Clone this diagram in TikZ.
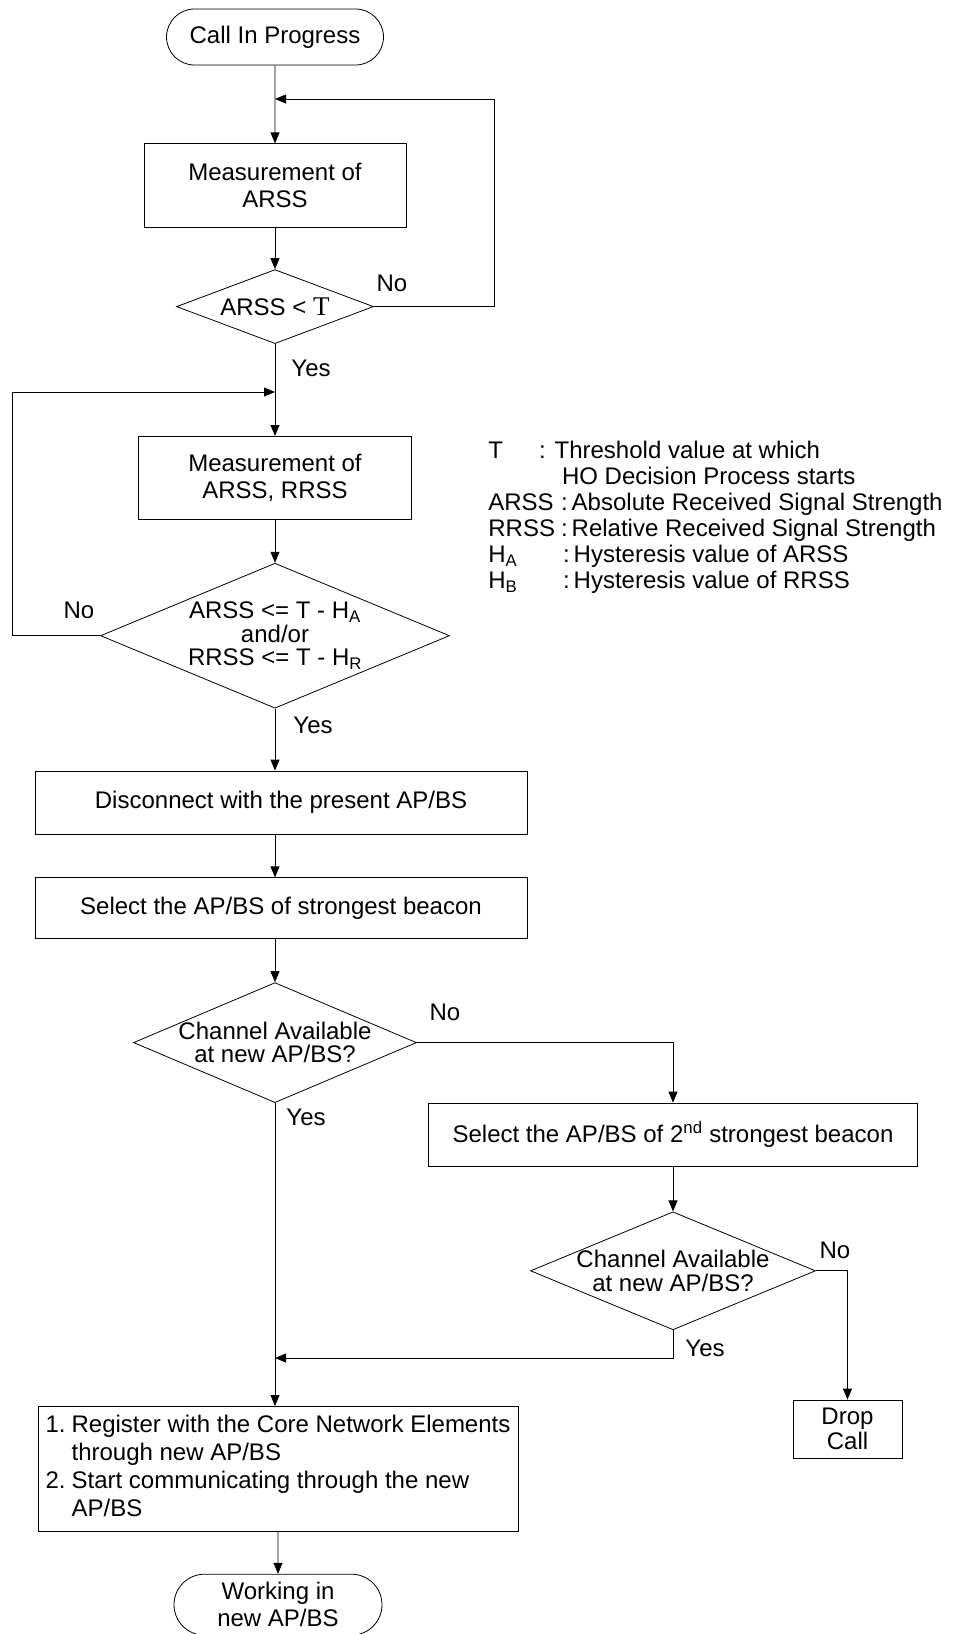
\documentclass[tikz,border=0pt]{standalone}
\usepackage{fontspec}
\setmainfont{Liberation Sans}
\newfontfamily\tfont{Liberation Serif}
\usetikzlibrary{arrows.meta,positioning,shapes.geometric,shapes.misc}

\begin{document}
\begin{tikzpicture}[x=1pt,y=1pt,font=\fontsize{24}{27}\selectfont,line width=0.8pt,
    every node/.style={align=center},
    box/.style={draw,rectangle,inner sep=0pt},
    term/.style={draw,rounded rectangle,inner sep=0pt},
    decision/.style={draw,diamond,inner sep=0pt},
    dtext/.style={font=\fontsize{24}{23.5}\selectfont},
    lbl/.style={inner sep=0pt},
    arr/.style={-{Triangle[length=11pt,width=9pt]}}]
  \useasboundingbox (0,0) rectangle (961,-1634);
  % main column
  \node[term,minimum width=217pt,minimum height=56pt] (start) at (275,-37) {Call In Progress};
  \node[box,minimum width=262pt,minimum height=84pt,below=78pt of start] (m1) {Measurement of\\ARSS};
  \node[decision,minimum width=197pt,minimum height=74pt,below=41pt of m1,
    label={[dtext]center:ARSS < {\tfont\fontsize{27}{27}\selectfont T}}] (d1) {};
  \node[box,minimum width=273pt,minimum height=83pt,below=92pt of d1] (m2) {Measurement of\\ARSS, RRSS};
  \node[decision,minimum width=349pt,minimum height=145pt,below=43pt of m2,
    label={[dtext]center:ARSS <= T - H\textsubscript{A}\\and/or\\RRSS <= T - H\textsubscript{R}}] (d2) {};
  \node[box,minimum width=492pt,minimum height=63pt,below=62pt of d2,xshift=6pt] (disc) {Disconnect with the present AP/BS};
  \node[box,minimum width=492pt,minimum height=61pt,below=43pt of disc] (sel) {Select the AP/BS of strongest beacon};
  \node[decision,minimum width=283pt,minimum height=120pt,below=43pt of sel,xshift=-6pt,
    label={[dtext]center:Channel Available\\at new AP/BS?}] (d3) {};
  \node[box,minimum width=480pt,minimum height=125pt,below=303pt of d3,xshift=3pt,
    font=\fontsize{24}{28}\selectfont] (reg) {%
    \begin{tabular}{@{}l@{\hspace{6pt}}l@{}}
      1. & Register with the Core Network Elements\\
         & through new AP/BS\\
      2. & Start communicating through the new\\
         & AP/BS
    \end{tabular}};
  \node[term,minimum width=208pt,minimum height=61pt,below=42pt of reg] (work) {Working in\\new AP/BS};

  % second choice
  \node[box,minimum width=489pt,minimum height=63pt] (sel2) at (673,-1134.5) {Select the AP/BS of 2\textsuperscript{nd} strongest beacon};
  \node[decision,minimum width=285pt,minimum height=118pt,below=45pt of sel2,
    label={[dtext]center:Channel Available\\at new AP/BS?}] (d4) {};
  \node[box,minimum width=109pt,minimum height=58pt,font=\fontsize{24}{25.5}\selectfont] (drop) at (847.5,-1429) {Drop\\Call};

  % key
  \node[lbl,anchor=north west,align=left,font=\fontsize{24}{26}\selectfont] (key) at (488,-440) {%
    \begin{tabular}{@{}l@{\hspace{6pt}}l@{}}
      T    & \hspace*{-22pt}: Threshold value at which\\
           & \hspace*{1pt}HO Decision Process starts\\
      ARSS & :\hspace{4pt}Absolute Received Signal Strength\\
      RRSS & :\hspace{4pt}Relative Received Signal Strength\\
      H\textsubscript{A} & \hspace*{2pt}:\hspace{4pt}Hysteresis value of ARSS\\
      H\textsubscript{B} & \hspace*{2pt}:\hspace{4pt}Hysteresis value of RRSS
    \end{tabular}};

  % joins
  \coordinate (j1) at (275,-99);
  \coordinate (j2) at (275,-392);
  \coordinate (j3) at (275,-1358);

  % connectors
  \draw[arr] (start) -- (m1);
  \draw[arr] (m1) -- (d1);
  \draw[arr] (d1.east) -- ++(120,0) |- (j1);
  \draw[arr] (d1) -- (m2);
  \draw[arr] (m2) -- (d2);
  \draw[arr] (d2.west) -- ++(-88,0) |- (j2);
  \draw[arr] (d2.south) -- (d2.south |- disc.north);
  \draw[arr] (d2.south |- disc.south) -- (d2.south |- sel.north);
  \draw[arr] (d3.north |- sel.south) -- (d3);
  \draw[arr] (d3.south) -- (d3.south |- reg.north);
  \draw[arr] (reg) -- (work);
  \draw[arr] (d3.east) -| (sel2);
  \draw[arr] (sel2) -- (d4);
  \draw[arr] (d4.south) |- (j3);
  \draw[arr] (d4.east) -| (drop);

  % yes / no
  \node[lbl] (no1) at (392,-283) {No};
  \node[lbl] (yes1) at (311,-368) {Yes};
  \node[lbl] (no2) at (79,-610) {No};
  \node[lbl] (yes2) at (313,-725) {Yes};
  \node[lbl] (no3) at (445,-1012) {No};
  \node[lbl] (yes3) at (306,-1117) {Yes};
  \node[lbl] (no4) at (835,-1250) {No};
  \node[lbl] (yes4) at (705,-1348) {Yes};
\end{tikzpicture}
\end{document}
